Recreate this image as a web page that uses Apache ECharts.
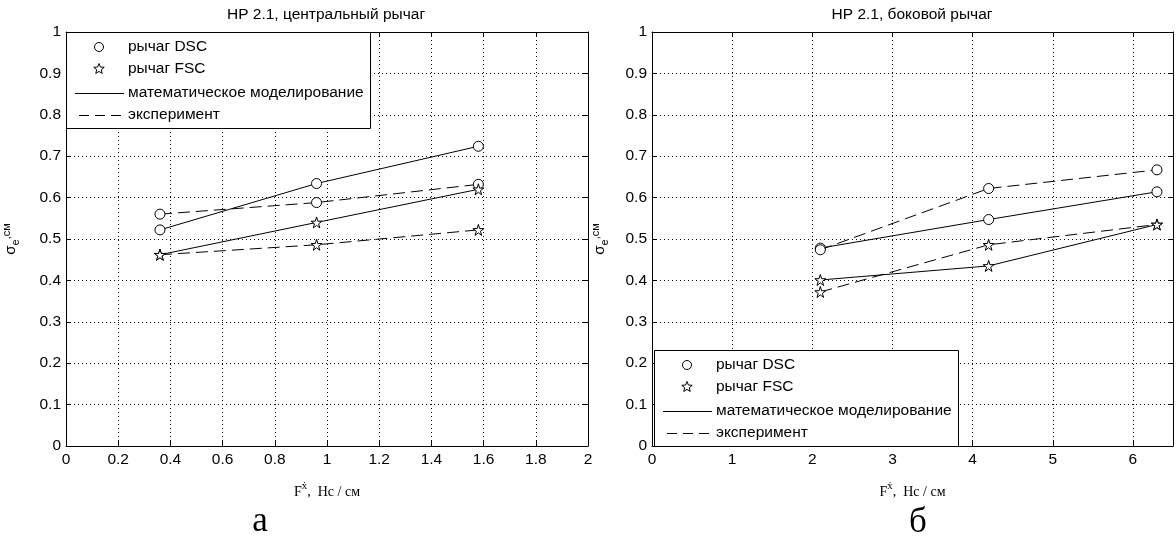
<!DOCTYPE html>
<html>
<head>
<meta charset="utf-8">
<script src="https://cdn.jsdelivr.net/npm/echarts@6/dist/echarts.min.js"></script>
<style>
  html, body { margin: 0; padding: 0; background: #fff; }
  #chart { width: 1176px; height: 540px; }
</style>
</head>
<body>
<div id="chart"></div>
<script>
// ---- data: central lever (panel а) ----
const xCentral = [0.36, 0.96, 1.58];
const dscModelCentral = [0.522, 0.634, 0.724];
const dscExpCentral = [0.560, 0.588, 0.632];
const fscModelCentral = [0.462, 0.540, 0.620];
const fscExpCentral = [0.462, 0.486, 0.522];

// ---- data: side lever (panel б) ----
const xSide = [2.1, 4.2, 6.3];
const dscModelSide = [0.478, 0.547, 0.614];
const dscExpSide = [0.474, 0.622, 0.667];
const fscModelSide = [0.401, 0.435, 0.535];
const fscExpSide = [0.372, 0.486, 0.535];

// ---- labels ----
const titles = ['HP 2.1, центральный рычаг', 'HP 2.1, боковой рычаг'];
const captions = ['а', 'б'];
const legendNames = ['рычаг DSC', 'рычаг FSC', 'математическое моделирование', 'эксперимент'];

const SANS = '"Liberation Sans", Arial, Helvetica, sans-serif';
const SERIF = '"Liberation Serif", "Times New Roman", serif';
const FS = 15.5;
const STAR = 'path://M50,0 L61,35 L98,35 L68,57 L79,91 L50,70 L21,91 L32,57 L2,35 L39,35 Z';
const DASH = [12, 6];

const pts = (xs, ys) => xs.map((x, i) => [x, ys[i]]);

function xAxisPair(gridIndex, max, interval) {
  const common = {
    type: 'value', gridIndex, min: 0, max, interval,
    axisLine: { show: true, onZero: false, lineStyle: { color: '#000', width: 1 } },
    axisTick: { show: true, inside: true, length: 5, lineStyle: { color: '#000' } }
  };
  return [
    Object.assign({}, common, {
      position: 'bottom',
      axisLabel: {
        color: '#000', fontFamily: SANS, fontSize: FS, margin: 6,
        formatter: v => (Math.abs(v / interval - Math.round(v / interval)) > 1e-6 ? '' : String(+v.toFixed(2)))
      },
      splitLine: { show: true, lineStyle: { color: '#000', width: 1, type: [1, 3] } },
      name: '{f|F}{x|ẋ}{r|,  Нс / см}',
      nameLocation: 'middle',
      nameGap: 35,
      nameTextStyle: {
        color: '#000',
        rich: {
          f: { fontFamily: SERIF, fontSize: 14, color: '#000', verticalAlign: 'bottom', lineHeight: 18 },
          x: { fontFamily: SERIF, fontSize: 11, color: '#000', verticalAlign: 'top', lineHeight: 18 },
          r: { fontFamily: SERIF, fontSize: 14, color: '#000', verticalAlign: 'bottom', lineHeight: 18 }
        }
      }
    }),
    Object.assign({}, common, {
      position: 'top',
      axisLabel: { show: false },
      splitLine: { show: false }
    })
  ];
}

function yAxisPair(gridIndex, nameGap) {
  const common = {
    type: 'value', gridIndex, min: 0, max: 1, interval: 0.1,
    axisLine: { show: true, onZero: false, lineStyle: { color: '#000', width: 1 } },
    axisTick: { show: true, inside: true, length: 5, lineStyle: { color: '#000' } }
  };
  return [
    Object.assign({}, common, {
      position: 'left',
      axisLabel: {
        color: '#000', fontFamily: SANS, fontSize: FS, margin: 5,
        formatter: v => String(+v.toFixed(1))
      },
      splitLine: { show: true, lineStyle: { color: '#000', width: 1, type: [1, 3] } },
      name: '{s|σ}{e|e}{c|,см}',
      nameLocation: 'middle',
      nameRotate: 90,
      nameGap,
      nameTextStyle: {
        color: '#000',
        rich: {
          s: { fontFamily: SANS, fontSize: 15, color: '#000', verticalAlign: 'middle', lineHeight: 20 },
          e: { fontFamily: SANS, fontSize: 11, color: '#000', verticalAlign: 'bottom', lineHeight: 20 },
          c: { fontFamily: SANS, fontSize: 11, color: '#000', verticalAlign: 'top', lineHeight: 20 }
        }
      }
    }),
    Object.assign({}, common, {
      position: 'right',
      axisLabel: { show: false },
      splitLine: { show: false }
    })
  ];
}

function lineSeries(axisIdx, data, symbol, dashed) {
  return {
    type: 'line',
    xAxisIndex: axisIdx, yAxisIndex: axisIdx,
    data,
    symbol,
    symbolSize: symbol === 'circle' ? 10 : 11,
    showSymbol: true,
    animation: false,
    lineStyle: { color: '#000', width: 1, type: dashed ? DASH : 'solid' },
    itemStyle: { color: '#fff', borderColor: '#000', borderWidth: 1 },
    emphasis: { disabled: true },
    z: 5
  };
}

// legend box, MATLAB-style: marker-only rows then line-only rows
function legendBox(x, y) {
  const rowY = [15, 37, 61, 83];
  const starPts = [];
  for (let k = 0; k < 10; k++) {
    const r = k % 2 === 0 ? 5.5 : 2.4;
    const a = -Math.PI / 2 + k * Math.PI / 5;
    starPts.push([x + 33 + r * Math.cos(a), y + rowY[1] + r * Math.sin(a)]);
  }
  const text = (i) => ({
    type: 'text', z: 101,
    style: { x: x + 62, y: y + rowY[i], text: legendNames[i], fill: '#000', font: FS + 'px ' + SANS, textVerticalAlign: 'middle' }
  });
  return [
    { type: 'rect', z: 100, shape: { x: x + 0.5, y: y + 0.5, width: 304, height: 96 }, style: { fill: '#fff', stroke: '#000', lineWidth: 1 } },
    { type: 'circle', z: 101, shape: { cx: x + 33, cy: y + rowY[0], r: 4.5 }, style: { fill: '#fff', stroke: '#000', lineWidth: 1 } },
    { type: 'polygon', z: 101, shape: { points: starPts }, style: { fill: '#fff', stroke: '#000', lineWidth: 1 } },
    { type: 'line', z: 101, shape: { x1: x + 9, y1: y + rowY[2] + 0.5, x2: x + 58, y2: y + rowY[2] + 0.5 }, style: { stroke: '#000', lineWidth: 1 } },
    { type: 'line', z: 101, shape: { x1: x + 13, y1: y + rowY[3] + 0.5, x2: x + 59, y2: y + rowY[3] + 0.5 }, style: { stroke: '#000', lineWidth: 1, lineDash: [10, 6] } },
    text(0), text(1), text(2), text(3)
  ];
}

const chart = echarts.init(document.getElementById('chart'), null, { renderer: 'canvas' });

const option = {
  backgroundColor: '#fff',
  animation: false,
  grid: [
    { left: 64, top: 32, width: 524, height: 414 },
    { left: 652, top: 32, width: 521, height: 414 }
  ],
  xAxis: [].concat(xAxisPair(0, 2, 0.2), xAxisPair(1, 6.5, 1)),
  yAxis: [].concat(yAxisPair(0, 45), yAxisPair(1, 42)),
  series: [
    lineSeries(0, pts(xCentral, dscModelCentral), 'circle', false),
    lineSeries(0, pts(xCentral, dscExpCentral), 'circle', true),
    lineSeries(0, pts(xCentral, fscModelCentral), STAR, false),
    lineSeries(0, pts(xCentral, fscExpCentral), STAR, true),
    lineSeries(2, pts(xSide, dscModelSide), 'circle', false),
    lineSeries(2, pts(xSide, dscExpSide), 'circle', true),
    lineSeries(2, pts(xSide, fscModelSide), STAR, false),
    lineSeries(2, pts(xSide, fscExpSide), STAR, true)
  ],
  graphic: [
    { type: 'text', style: { x: 326, y: 15, text: titles[0], fill: '#000', font: FS + 'px ' + SANS, textAlign: 'center', textVerticalAlign: 'middle' } },
    { type: 'text', style: { x: 912, y: 15, text: titles[1], fill: '#000', font: FS + 'px ' + SANS, textAlign: 'center', textVerticalAlign: 'middle' } },
    { type: 'text', style: { x: 260, y: 522, text: captions[0], fill: '#000', font: '35px ' + SERIF, textAlign: 'center', textVerticalAlign: 'middle' } },
    { type: 'text', style: { x: 918, y: 523, text: captions[1], fill: '#000', font: '35px ' + SERIF, textAlign: 'center', textVerticalAlign: 'middle' } }
  ].concat(legendBox(66, 32), legendBox(654, 350))
};

// series in panel б use the second grid's axes (indices 2)
option.series.forEach(s => { if (s.xAxisIndex === 2) { s.yAxisIndex = 2; } });

chart.setOption(option);
</script>
</body>
</html>
